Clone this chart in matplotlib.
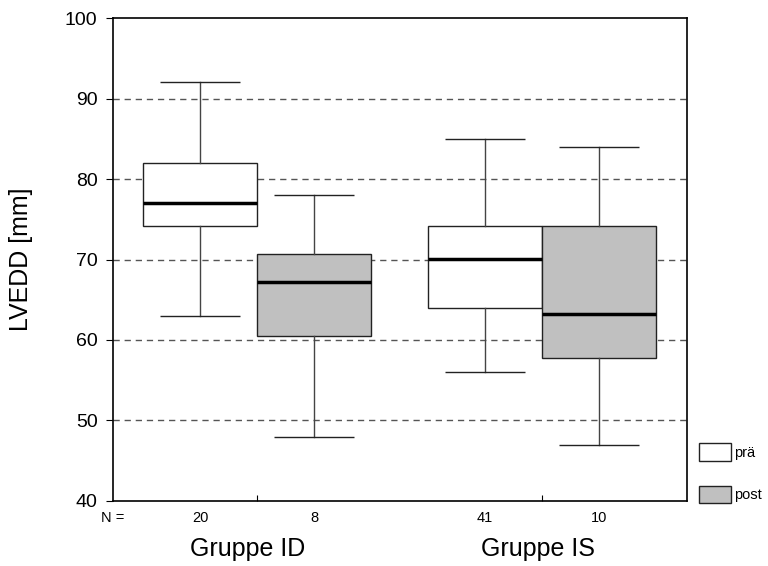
import matplotlib
matplotlib.use("Agg")
import matplotlib.pyplot as plt
from matplotlib.patches import Patch
import matplotlib.transforms as mtransforms

plt.rcParams['font.family'] = ['Liberation Sans', 'DejaVu Sans']

# box statistics
groups = ['Gruppe ID', 'Gruppe IS']
series = ['prä', 'post']
n_counts = [20, 8, 41, 10]
whisker_low = [63, 48, 56, 47]
q1 = [74.2, 60.5, 64.0, 57.8]
medians = [77.0, 67.2, 70.1, 63.2]
q3 = [82.0, 70.7, 74.2, 74.2]
whisker_high = [92, 78, 85, 84]
box_colors = ['white', '#c0c0c0', 'white', '#c0c0c0']
positions = [1, 2, 3.5, 4.5]
yticks = [40, 50, 60, 70, 80, 90, 100]

fig = plt.figure(figsize=(7.68, 5.66), dpi=100)
ax = fig.add_axes([0.147, 0.115, 0.748, 0.853])

stats = []
for i in range(len(positions)):
    stats.append({'whislo': whisker_low[i], 'q1': q1[i], 'med': medians[i],
                  'q3': q3[i], 'whishi': whisker_high[i], 'fliers': []})

bp = ax.bxp(stats, positions=positions, widths=1.0, patch_artist=True,
            showfliers=False, manage_ticks=False,
            boxprops=dict(edgecolor='#222222', linewidth=1.0),
            whiskerprops=dict(color='#444444', linewidth=1.0),
            capprops=dict(color='#222222', linewidth=1.0, solid_capstyle='butt'),
            medianprops=dict(color='black', linewidth=2.5, solid_capstyle='butt'),
            capwidths=0.7)
for patch, c in zip(bp['boxes'], box_colors):
    patch.set_facecolor(c)
    patch.set_zorder(3)
for key in ['whiskers', 'caps', 'medians']:
    for ln in bp[key]:
        ln.set_zorder(4)

ax.set_ylim(40, 100)
ax.set_xlim(0.237, 5.272)
ax.set_yticks(yticks)
ax.tick_params(axis='y', labelsize=14, length=5, direction='out', pad=6)
for y in yticks[1:-1]:
    ax.axhline(y, color='#555555', linewidth=1.0, linestyle=(0, (4.5, 3.5)), zorder=1)

ax.set_xticks([1.5, 4.0])
ax.set_xticklabels([])
ax.tick_params(axis='x', direction='in', length=4)
for s in ax.spines.values():
    s.set_color('black')
    s.set_linewidth(1.2)

ax.set_ylabel('LVEDD [mm]', fontsize=18)
ax.yaxis.set_label_coords(-0.139, 0.5)

trans = mtransforms.blended_transform_factory(ax.transData, ax.transAxes)
ax.text(0.237, -0.036, 'N =', transform=trans, ha='center', va='center', fontsize=10.5)
for p, n in zip(positions, n_counts):
    ax.text(p, -0.036, str(n), transform=trans, ha='center', va='center', fontsize=10.5)
for gx, g in zip([1.42, 3.96], groups):
    ax.text(gx, -0.1, g, transform=trans, ha='center', va='center', fontsize=18)

handles = [Patch(facecolor=c, edgecolor='#222222', linewidth=1.0) for c in box_colors[:2]]
ax.legend(handles, series, loc='lower left', bbox_to_anchor=(1.02, -0.005),
          frameon=False, fontsize=10.5, handlelength=2.2, handleheight=1.5,
          handletextpad=0.2, labelspacing=1.7, borderpad=0, borderaxespad=0)

fig.savefig('out.png', dpi=100)
